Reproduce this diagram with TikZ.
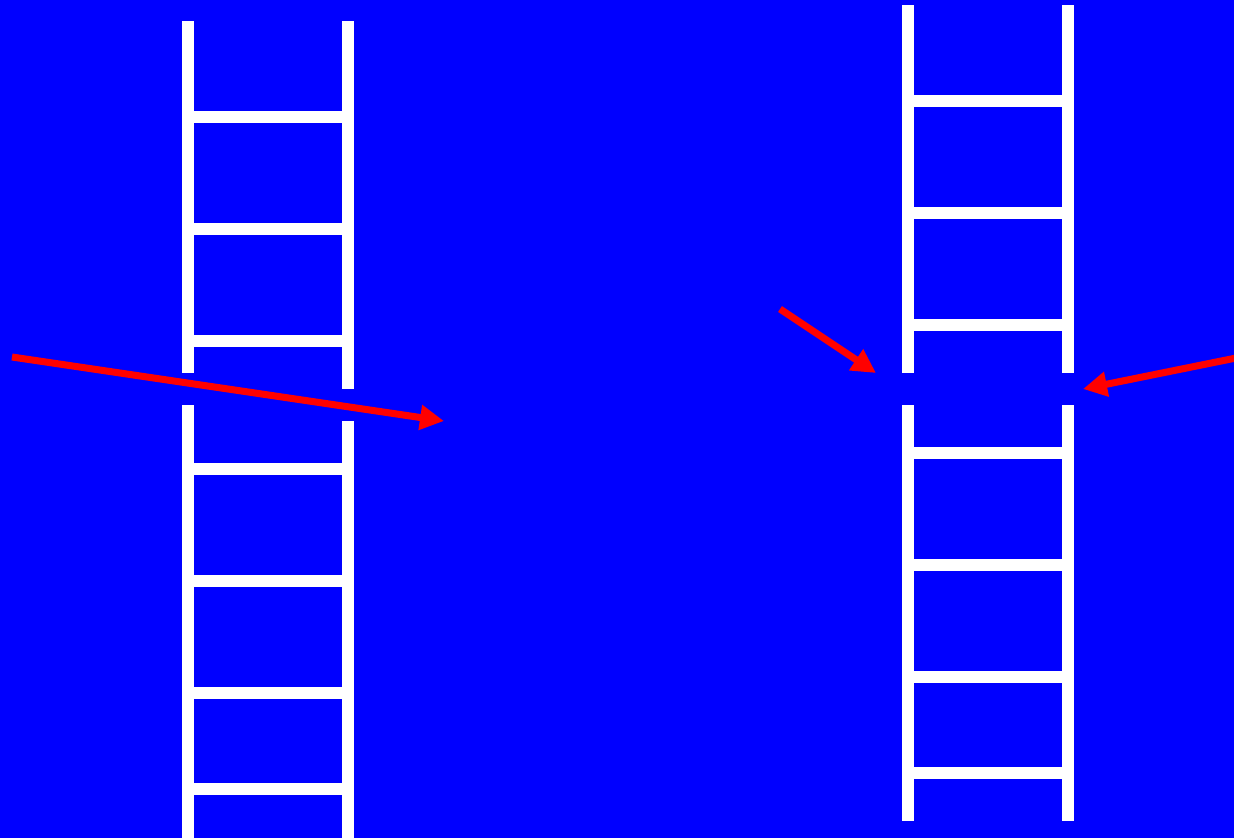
\documentclass[tikz,border=0pt]{standalone}
\usetikzlibrary{arrows.meta}
\definecolor{bgblue}{RGB}{0,0,255}
\definecolor{arrred}{RGB}{255,0,0}
\tikzset{
  railpart/.style={fill=white, draw=none},
  redarrow/.style={draw=arrred, line width=7pt, -{Triangle[length=24pt,width=24pt]}}
}
\begin{document}
\begin{tikzpicture}[x=1pt,y=-1pt]
\fill[bgblue] (0,0) rectangle (1234,838);
\useasboundingbox (0,0) rectangle (1234,838);
% left ladder upper
\fill[railpart] (182,21) rectangle (194,373);
\fill[railpart] (342,21) rectangle (354,389);
\foreach \y in {117,229,341}{\fill[railpart] (194,\y-6) rectangle (342,\y+6);}
% left ladder lower
\fill[railpart] (182,405) rectangle (194,838);
\fill[railpart] (342,421) rectangle (354,838);
\foreach \y in {469,581,693,789}{\fill[railpart] (194,\y-6) rectangle (342,\y+6);}
% right ladder upper
\fill[railpart] (902,5) rectangle (914,373);
\fill[railpart] (1062,5) rectangle (1074,373);
\foreach \y in {101,213,325}{\fill[railpart] (914,\y-6) rectangle (1062,\y+6);}
% right ladder lower
\fill[railpart] (902,405) rectangle (914,821);
\fill[railpart] (1062,405) rectangle (1074,821);
\foreach \y in {453,565,677,773}{\fill[railpart] (914,\y-6) rectangle (1062,\y+6);}
% arrows
\coordinate (a1s) at (12,357);
\coordinate (a1e) at (444,421);
\coordinate (a2s) at (780,309);
\coordinate (a2e) at (876,373);
\coordinate (a3s) at (1236,358);
\coordinate (a3e) at (1083,389);
\draw[redarrow] (a1s) -- (a1e);
\draw[redarrow] (a2s) -- (a2e);
\draw[redarrow] (a3s) -- (a3e);
\end{tikzpicture}
\end{document}
